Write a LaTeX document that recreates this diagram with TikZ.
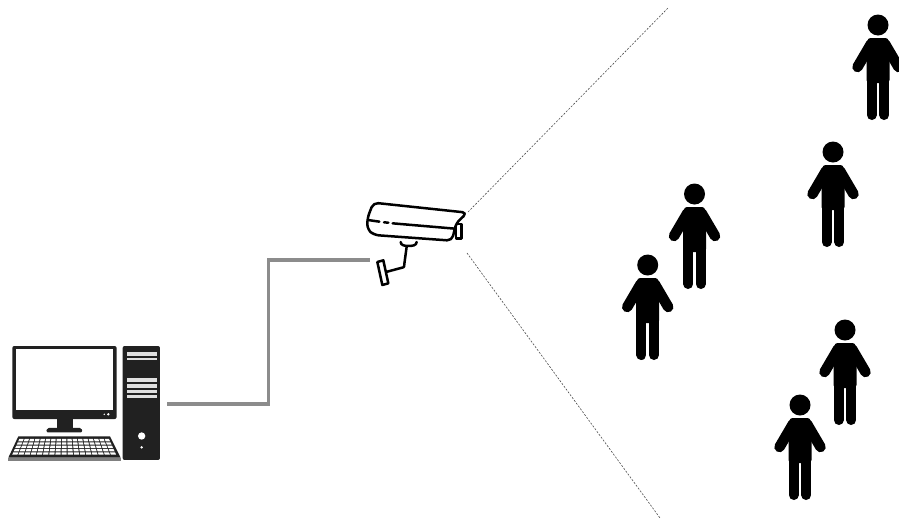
\documentclass[tikz,border=0pt]{standalone}
\tikzset{
  sightline/.style={draw=black!70,line width=0.6pt,dash pattern=on 2pt off 1.5pt},
  cable/.style={draw=black!45,line width=3.2pt},
  camline/.style={draw=black,line width=2.5pt,line join=round,line cap=round,fill=white},
  person/.pic={
    \fill[black] (0,0) circle (10.5);
    \fill[black,rounded corners=3pt] (-10.5,13) -- (10.5,13) -- (11.5,30) -- (11.5,58) -- (-11.5,58) -- (-11.5,30) -- cycle;
    \draw[black,line width=10.5pt,line cap=round] (-7,19) -- (-20.5,42);
    \draw[black,line width=10.5pt,line cap=round] (7,19) -- (20.5,42);
    \draw[black,line width=10pt,line cap=round] (-6.3,50) -- (-6.3,90);
    \draw[black,line width=10pt,line cap=round] (6.3,50) -- (6.3,90);
  }
}
\begin{document}
\begin{tikzpicture}[x=1pt,y=-1pt]
\useasboundingbox (0,0) rectangle (899,520);
\fill[white] (0,0) rectangle (899,520);
% anchors
\coordinate (pc) at (167,404);
\coordinate (cam) at (370,260);
\coordinate (lensA) at (468,212);
\coordinate (farA) at (668,8);
\coordinate (lensB) at (467,253);
\coordinate (farB) at (660,518);
% connectors
\draw[cable] (pc) -- (268.5,404) |- (cam);
\path[sightline] (lensA) -- (farA);
\path[sightline] (lensB) -- (farB);
% computer
\begin{scope}[shift={(0,335)},x=0.3333pt,y=-0.3333pt]
  \definecolor{pcdark}{gray}{0.13}
  \fill[pcdark,rounded corners=2pt] (37,33) rectangle (350,252);
  \fill[white] (47,43) rectangle (340,225);
  \fill[pcdark] (172,250) rectangle (218,282);
  \fill[pcdark,rounded corners=1.5pt] (138,292) -- (142,279) -- (244,279) -- (248,292) -- cycle;
  \fill[white] (313,238) circle (2.5) (325,238) circle (4);
  \fill[pcdark,rounded corners=2pt] (368,33) rectangle (480,375);
  \foreach \a/\b in {52/62,68/76,130/142,148/158,165/175,180/190}
    \fill[black!12] (380,\a) rectangle (470,\b);
  \fill[white] (425,303) circle (11);
  \fill[white] (425,337) circle (4);
  \fill[pcdark] (55,304) -- (330,304) -- (362,368) -- (25,368) -- cycle;
  \fill[black!50] (25,368) rectangle (362,378);
  \foreach \r in {0,1,2,3,4}{
    \foreach \c in {0,...,16}{
      \pgfmathsetmacro{\ya}{312+\r*10}
      \pgfmathsetmacro{\yb}{\ya+7}
      \pgfmathsetmacro{\la}{60-(\ya-304)*0.45}
      \pgfmathsetmacro{\wa}{(325-\la-(\ya-304)*0.45+ (\ya-304)*0)/17+(\ya-304)*0.0}
      \pgfmathsetmacro{\lb}{60-(\yb-304)*0.45}
      \pgfmathsetmacro{\ra}{330+(\ya-304)*0.45-5}
      \pgfmathsetmacro{\rb}{330+(\yb-304)*0.45-5}
      \pgfmathsetmacro{\sa}{(\ra-\la)/17}
      \pgfmathsetmacro{\sb}{(\rb-\lb)/17}
      \fill[white] ({\la+\c*\sa+1.5},\ya) -- ({\la+(\c+1)*\sa-1.5},\ya) -- ({\lb+(\c+1)*\sb-1.5},\yb) -- ({\lb+\c*\sb+1.5},\yb) -- cycle;
    }
  }
\end{scope}
% camera
\begin{scope}[shift={(350,190)},x=0.3333pt,y=-0.3333pt]
  \draw[camline] (318,102) -- (334,102) -- (334,145) -- (318,145) -- cycle;
  \draw[camline] (170,170) -- (163,222) to[out=100,in=0] (160,232) -- (108,246);
  \draw[camline] (82,216) -- (100,211) -- (115,280) -- (97,285) -- cycle;
  \draw[camline] (152,156) to[out=-90,in=180] (175,168) to[out=0,in=-90] (200,156);
  \draw[camline,rounded corners=5pt] (70,38) -- (352,68) -- (318,100) -- (306,152) -- (72,135) -- (52,118) -- (52,85) -- cycle;
  \draw[camline,fill=none] (54,90) -- (88,95);
  \draw[camline,fill=none] (102,97) -- (115,98);
  \draw[camline,fill=none] (128,100) -- (315,116);
\end{scope}
% people
\pic (p1) at (647.7,265) {person};
\pic (p2) at (694.5,194) {person};
\pic (p3) at (833,152) {person};
\pic (p4) at (878,25) {person};
\pic (p5) at (845,330) {person};
\pic (p6) at (800,405) {person};
\end{tikzpicture}
\end{document}
